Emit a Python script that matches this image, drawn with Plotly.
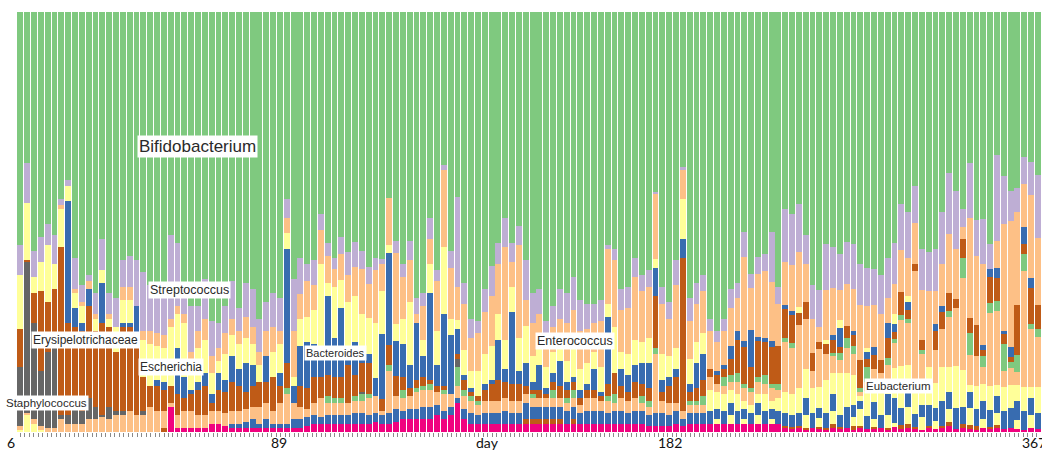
import numpy as np
import plotly.graph_objects as go

# Relative abundance (%) per sample, one list per taxon (bottom of stack first).
pink = [0,0,0,0,0,0,0,0,0,0, 0,0,0,0,0,0,0,0,0,0, 0,0,6,1,1,1,1,1,2,2, 1.5,1,1,1,1,1,1,1,1,1,
        1,1,1.5,2,2,2,2,2,2,2, 2,2,2.5,2,2,2.5,3,3,3,3, 3,4,3,4,7,3,2,2,2,2, 2,2,2,2,2,2,2,2,2,2,
        2,2,2,2,2,2,2,2,2,2, 2,2,1.5,1.5,1.5,1.5,2,1.5,2,2, 2,2,2,2,2,2,2,2,2,2, 2,2,1,0.6,1,0.5,1,0.8,0.5,1,
        0.6,1,0.5,1,0.8,0.6,1,0.5,1.2,0.6, 1,0.8,0.5,1,0.6,1,1.5,0.6,1,0.8, 0.5,1,0.8,1,0.6,1,0.8,0.5,1,0.6]
rust = [0,0,0,0,0,0,0,0,0,0, 0,0,0,0,0,0,0,0,0,0, 0,1,0,0,0,0,0,0,0,0, 0,0,0,0,0,0,0,0,0,0,
        0,0,0,0,0,0,0,0,0,0, 0,0,0,0,0,0,0,0,0,0, 0,0,0,0,0,0,0,0,0,0, 0,0,0,0,1,1,1,1,1,1,
        0,1,0,0,0,0,0,0,0,0, 0,0,0,0,0,0,0,0,0,0, 0,0,0,0,0,0,0,0,0,0, 0,0,0.5,0.5,0.5,0.5,0,0.5,0.5,1,
        0.5,0,1,0.5,0,0.5,0,0.5,0,1, 1,0.5,0,0.5,0,0.5,1,0,1,0.8, 0.9,0,0.5,0.6,0,0,0,0,0,0]
base_yellow = [0,0,0,0,0,0,0,0,0,0, 0,0,0,0,0,0,0,0,0,0, 0,0,0,0,0,0,0,0,0,0, 0,0,0,0,0,0,0,0,0,0,
        0,0,0,0,0,0,0,0,0,0, 0,0,0,0,0,0,0,0,0,0, 0,0,0,0,0,0,0,0,0,0, 0,0,0,0,0,0,0,0,0,0,
        0,0,0,0,0,0,0,0,0,0, 0,0,0,0,0,0,0,0,0,0, 0,0,1,0,2,0,1,0,2,0, 1,0,0,0,0,3,0,2,0,3,
        0,0,2,4,0,2,0,3,1,0, 4,0,3,0,2,0,3,0,0,4, 0,2,0,3,0,0,2,0,3,0]
eubacterium = [0,0,0,0,0,0,0,0,0,0, 0,0,0,0,0,0,0,0,0,0, 0,0,0,0,0,0,0,0,0,0, 0,1,1,1.5,2,1,2,1,1,1,
        2,2,2,2,1.5,2,2,2,2,2.5, 2.5,2,2,2,2.5,3,2,2.5,2.5,3, 3,2.5,2,2,1,2.5,2.5,2,2.5,2.5, 2.5,3,2.5,2.5,4,3,3,3,3,3,
        3,3,2.5,3,3,3,2.5,3,3,2.5, 3,3,2.5,3,3,2.5,3,1.5,2.5,2.5, 2.5,3,2.5,3,3,3,2.5,2.5,3,3, 2.5,3,3,3,3,4,3.5,2.5,3.5,4,
        3,5,3,2,3,4,3,5,6,4, 6,3,3,5,3,6,4,5,4,4, 4,4.4,4,4,4.4,4.6,4.5,4.5,4,4]
low_yellow = [0.5,4,2,0.5,0,0,0,0,0,0, 0,0,0,0,0,0,0,0,0,0, 0,0,0,0,0,0,0,0,0,0, 0,0,0,0,0,0,0,0,0,0,
        0,0,0,0,0,0,0,0,0,0, 0,0,0,0,0,0,0,0,0,0, 0,0,0,0,0,0,0,0,0,0, 0,0,0,0,0,0,0,0,0,0,
        0,0,0,0,0,0,0,0,0,0, 0,0,0,0,0,0,0,0,0,0, 0,5,4,4,3,4,2,2,2,4, 2,3,5,5,6,7,6,5,8,5,
        10,8,7,1,6,5,6,3,7,10, 4,8,4,9,6,8,6,10,8.7,1.6, 5.6,4,5.6,2.6,5.6,5.6,4,5.6,2.6,6]
low_peach = [1,0.5,1,1,1,1,3,2,2,2, 3,3,3.5,3,4,4,5,4,4,6, 5,4,1,3,4,4,3,3,3,3, 3,3,3,3,3,4,4,3,5,7,
        4,3,2,3,4.5,3,3,3,3,3, 3,4,4,1,10,3,3,3,4,4, 4,3,4,3,3,3,3,2.5,3,3, 3,3,3,3,2,2,2,2,2,2,
        2,2,2,3,3,2.5,3,2,3,3, 3,2,2,14,3,3,2,2,2,2, 2,3,2,2,2,3,3,3,3,2.5, 3,2,12,11,15,12,4,9,6,4,
        3,6,5,1,2,3,4,4,6,11, 10,26,8,6,8,9,12,14,22,7.1, 7,4,17.5,17.5,4,4,3,27.8,14,12]
low_green = [0,0,0,0,0,0,0,0,0,0, 0,0,0,0,0,0,0,0,0,0, 0,0,0,0,0,0,0,0,0,0, 0,0,0,0,0,0,0,0,0,1.5,
        0,0,0,0,0,1.5,1,1,0,1, 1.5,1,0,0,1.5,0,2,0,1,1, 1.5,0,1,0,4.4,1.5,1,1,0,0, 0,0,0,0,0,1,0,0,2,0,
        1,2,0,0,0,0,1,2,0,0, 0,1.5,1.5,1.6,0,0,0,0,1,1, 2,0,0,2,1.5,2,1,1,1,2, 1,1.5,1,1,0,0,0,0,0,0.8,
        1.6,2.4,2,1,3.6,0,0,1.6,1,1.2, 1,0,1,0,0,0,1.2,0,4.8,5.2, 0,2.8,2.4,2.4,6.3,1.5,4,4,1,2]
staphylococcus = [14,36,23,13,18,19,1,2,4,3, 5,3,0.5,3,1,1,0,0,1,0, 0,0,0,0,0,0,0,0,0,0, 0,0,0,0,0,0,0,0,0,0,
        0,0,0,0,0,0,0,0,0,0, 0.5,0,0,0,0,0,0,0,0,0, 0,0,0,0,2,0,0,0,0,0, 0,0,0,0,0,0,0,0,0,0,
        0,0,0,0,0,0,0,0,0,0, 0,0,0,0,0,0,0,0,0,0, 0,0,0,0,0,0,0,0,0,0, 0,0,0,0,0,0,0,0,0,0,
        0,0,0,0,0,0,0,0,0,0, 0,0,0,0,0,0,0,0,0,0, 0,0,0,0,0,0,0,0,0,0]
erysipelotrichaceae = [9,0.5,7,19,12,14,40,22,19,19, 22,18,22,19,14,20,20,17,8,5, 6,5,4,5,3,4,6,7,2,5, 5,7,6,4,5,6,5,8,4,6,
        0,5,5,6,5,5,5,5,9,5, 7,7.5,0,2.8,4.8,4.8,3,2,2,2, 1,1.5,1,0,1.2,2.5,1,1,2.5,4, 5,4,4,4,2,1,2,1,2,3,
        2,2,1.5,2,2,1,3,5,3,2, 4,3,3,12.3,2,4,6,36.5,2,3, 4,2,2,2,4,8,8.7,5,8.7,7.9, 8.7,9,6.7,6.7,2.8,4,4.4,1.6,2.4,3.2,
        1.6,2.8,2.5,6.7,2,3.2,3.2,4.8,1.6,5.6, 2,1.6,2.4,0,4.4,4,4.4,2,4.4,3.6, 7.5,1.4,6,5.6,2.4,1.2,11.9,2.4,8.7,5.6]
bacteroides = [0,0,0,0,0,0,0,29,4.5,2, 4,0,9.5,0,0,1,1,9,0,0, 1.5,2,0,11,5,1,2,3,2,4, 3,6,4,7,5,0,6,0,3,27,
        4,9.5,11,8,5,19,9.5,16.5,2,8, 2,2,4.4,15.5,21.8,8.3,8,5.5,13.5,5, 20.5,5,17,14,6,1,1,0,1.5,1, 9.5,3,17,3,5.5,2,6,1.5,2,6,
        2,1,2,1.5,5,1,16,0,4,4, 4,5,6,6.7,3,2,2,4.4,2,6, 6,0,1,1,3,2,1.5,8.7,1,1, 1.5,0,1,1,0,0,0,0,0,1.2,
        4.4,0,1,0,1.6,2,0,3.6,2,0, 2,0,0,0,1.6,1.5,0,0,0,0, 0,1,2,2.4,0.8,2.4,0,4,2.4,0]
escherichia = [13,13.5,4,7,13.5,6,9,3.5,3.5,4, 0,3,3,2,6,5.5,5.5,0,9,10, 8,8,14,8,13,5,8,8,5,3, 6,5,6,6,5,4,0,6,7,4,
        2,6.3,6,8,22,3,12,6.7,13,11, 9.5,8.7,13,10.3,2,4,6,15,0,4, 7,8,16,4,2,6,4,6,7,8, 6,7,6,8,8.7,6,5,5,5,4,
        5,8,5,5,4,6,3,11,4,5, 6,5,6,2,6,5,5,9.5,6,5, 5,0,0,0,0,0,0,0,0,0, 0,0,0,0,1.5,0,0,0,1,0,
        2,0,0,0,1,0,0,0,2.4,0, 1.5,0,0,0,0,0,0,0,0,0, 0,0,0,0,0,0,0,0,0,0]
enterococcus = [0,0,0,0,0,0,1,0,1,1, 2,1,0,1,0,3,3,0,2,3, 3,3,2,2,2,4,4,5,4,3, 5,4,3,5,4,3,6,6,3,3.5,
        11,6,8.5,6,8,6.3,4.4,6.3,6.3,6.7, 10.7,8,12.7,6.3,11,17,10,10,2,8, 6,12,18.3,12,8,11,8,9,10,12, 12,22,6,22,6.3,8,7,6,6,6,
        9,8,9,8,7,11,13,16,10,11, 15,12,12,15.5,12,9,15,7,9,9, 10,9,7,8,9,8,20,10,15,16, 14,10,10.3,11,13,9,8,3.5,12,11,
        7,10,10,13,10,10,11,6,7,10, 9,9.9,12,12,8,10,14,12,2.8,23.8, 16.3,19.4,0,6.3,25.4,30,22.2,10.3,19.8,15.9]
streptococcus = [7,9.5,6,6,5,7,1.5,1.5,7.5,4, 1.5,5,7.5,5,7,6.5,7.5,11,14,11, 12,9,20,15,7,11,6,9.5,8.5,6, 6.5,9,5.5,8,9,8,7,8,8,4.5,
        12.5,8.7,4,6,4,3.2,2.5,4,5.5,6, 4.4,4,2.8,1.2,0,2.8,3,4.5,4,3, 5,2.5,1.2,4,21.3,5,4.5,3,5.5,7, 5,7,4.5,4.5,9.5,7,6,5,5,7,
        7,8,7.5,6,4.5,5,1,2.5,5,5, 4.5,4,4,0.5,4,4,6,0.8,5.5,5, 4,3,2.5,3,4.5,3.5,6,3.5,4,4, 12,4,12.7,12.2,11.5,7,8,9,10.8,9.8,
        8.7,10,10.7,9.8,9,8.6,9.1,9.5,9.8,10.9, 10.9,8.7,9.6,9.3,10,12.4,14.5,13.9,4.4,13.1, 8.7,10.7,6,20.6,11.5,7.1,5.6,6.3,7.9,15]

stack = [
    ("Pink", pink, "#f0027f"),
    ("Rust", rust, "#bf5b17"),
    ("Yellow (base)", base_yellow, "#ffff99"),
    ("Eubacterium", eubacterium, "#386cb0"),
    ("Yellow (low)", low_yellow, "#ffff99"),
    ("Peach (low)", low_peach, "#fdc086"),
    ("Green (low)", low_green, "#7fc97f"),
    ("Staphylococcus", staphylococcus, "#666666"),
    ("Erysipelotrichaceae", erysipelotrichaceae, "#bf5b17"),
    ("Bacteroides", bacteroides, "#386cb0"),
    ("Escherichia", escherichia, "#ffff99"),
    ("Enterococcus", enterococcus, "#fdc086"),
    ("Streptococcus", streptococcus, "#beaed4"),
]
n = len(streptococcus)
# Bifidobacterium fills the remainder of each sample to 100 %
bifidobacterium = [round(100 - sum(s[1][i] for s in stack), 2) for i in range(n)]
stack.append(("Bifidobacterium", bifidobacterium, "#7fc97f"))

# Axis labels: text and sample-index position
tick_text = ["6", "89", "day", "182", "367"]
tick_pos = [-1.4, 37.8, 68.4, 95.1, 148.4]

# Taxon labels drawn over the bars: text, pixel centre, font size
labels = [
    ("Bifidobacterium", 197, 146, 17),
    ("Streptococcus", 189, 289.5, 12.5),
    ("Erysipelotrichaceae", 85, 340, 12),
    ("Escherichia", 171, 366.5, 12),
    ("Staphylococcus", 46, 402.5, 11.5),
    ("Bacteroides", 335.5, 352.5, 11),
    ("Enterococcus", 575, 340.5, 12.5),
    ("Eubacterium", 898, 385.5, 11.5),
]

W, H = 1042, 452
ML, MR, MT, MB = 17, 0, 12, 20
x_lo, x_hi = -0.5, 149.6
pw, ph = W - ML - MR, H - MT - MB

fig = go.Figure()
xs = list(range(n))
for name, vals, col in stack:
    fig.add_trace(go.Bar(x=xs, y=vals, name=name, marker=dict(color=col, line=dict(width=0)),
                         showlegend=False, hoverinfo="skip"))

minor_ticks = np.linspace(-0.05, 148.8, 227)

fig.update_layout(
    width=W, height=H, barmode="stack", bargap=0.14,
    margin=dict(l=ML, r=MR, t=MT, b=MB, pad=0),
    paper_bgcolor="white", plot_bgcolor="white",
    xaxis=dict(range=[x_lo, x_hi], showgrid=False, zeroline=False, showline=False,
               tickmode="array", tickvals=minor_ticks, ticktext=[""] * len(minor_ticks),
               ticks="outside", ticklen=4, tickwidth=1, tickcolor="#8a8a8a", showticklabels=False),
    yaxis=dict(range=[0, 100], visible=False, showgrid=False, zeroline=False),
)

def to_paper_x(px):
    return (px - ML) / pw

def to_paper_y(py):
    return (H - MB - py) / ph

for txt, pos in zip(tick_text, tick_pos):
    fig.add_annotation(x=(pos - x_lo) / (x_hi - x_lo), y=to_paper_y(H), xref="paper", yref="paper",
                       text=txt, showarrow=False, xanchor="center", yanchor="bottom", borderpad=0,
                       font=dict(family="Lato, Carlito, sans-serif", size=14, color="#111"))

for txt, px, py, fs in labels:
    fig.add_annotation(x=to_paper_x(px), y=to_paper_y(py), xref="paper", yref="paper",
                       text=txt, showarrow=False, xanchor="center", yanchor="middle",
                       bgcolor="white", borderpad=1,
                       font=dict(family="Liberation Sans, Arial, sans-serif", size=fs, color="#2a2a2a"))

fig.write_html("out.html")
